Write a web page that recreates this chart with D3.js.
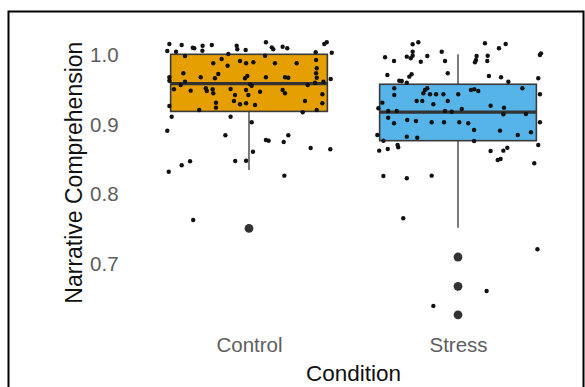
<!DOCTYPE html>
<html><head><meta charset="utf-8">
<script src="https://cdn.jsdelivr.net/npm/d3@7"></script>
<style>body{margin:0;background:#fff;} svg{display:block;font-family:"Liberation Sans",Arial,sans-serif;}</style>
</head><body><svg id="c" width="585" height="387"></svg>
<script>
const categories = ["Control", "Stress"];
const colors = ["#E69F00", "#56B4E9"];
const yTicks = [0.7, 0.8, 0.9, 1.0];
// box stats: [lowerWhisker, Q1, median, Q3, upperWhisker]
const controlBox = [0.835, 0.919, 0.959, 1.001, 1.001];
const stressBox = [0.752, 0.877, 0.918, 0.958, 1.001];
const controlOutliers = [0.751];
const stressOutliers = [0.710, 0.668, 0.627];
// jittered points: [horizontal jitter (category units), value]
const controlPoints = [[-0.381,1.0158],[-0.322,1.0144],[-0.269,1.0105],[-0.262,1.0096],[-0.222,1.0133],[-0.223,1.0062],[-0.178,1.0144],[-0.059,1.0133],[-0.056,1.0082],[-0.016,1.0072],[0.081,1.0182],[0.109,1.0110],[0.116,1.0082],[0.161,1.0119],[0.183,1.0096],[0.360,1.0158],[0.372,1.0182],[0.396,1.0033],[0.319,1.0039],[-0.349,1.0047],[-0.391,1.0057],[-0.306,0.9986],[-0.131,0.9943],[-0.099,1.0014],[0.077,0.9990],[0.321,0.9928],[-0.171,0.9881],[-0.102,0.9846],[-0.043,0.9914],[-0.014,0.9881],[0.021,0.9895],[0.124,0.9881],[0.228,0.9881],[0.324,0.9809],[-0.314,0.9737],[-0.147,0.9727],[-0.163,0.9666],[-0.231,0.9680],[-0.019,0.9666],[-0.008,0.9699],[0.081,0.9680],[0.172,0.9680],[0.188,0.9674],[0.321,0.9737],[0.324,0.9674],[0.391,0.9656],[-0.381,0.9680],[-0.381,0.9631],[-0.306,0.9617],[-0.327,0.9569],[0.005,0.9579],[0.013,0.9559],[0.281,0.9569],[0.316,0.9602],[0.356,0.9617],[-0.359,0.9508],[-0.279,0.9488],[-0.207,0.9522],[-0.202,0.9483],[-0.174,0.9508],[-0.171,0.9450],[-0.088,0.9512],[-0.014,0.9498],[0.053,0.9473],[0.161,0.9498],[0.172,0.9450],[0.351,0.9436],[-0.067,0.9426],[-0.003,0.9426],[-0.072,0.9340],[-0.043,0.9292],[-0.014,0.9307],[0.029,0.9282],[-0.158,0.9315],[-0.158,0.9244],[0.268,0.9340],[0.351,0.9307],[-0.381,0.9268],[-0.238,0.9211],[0.324,0.9211],[-0.370,0.9114],[-0.088,0.9114],[0.257,0.9178],[0.013,0.9034],[-0.391,0.8913],[-0.113,0.8848],[0.081,0.8780],[0.094,0.8770],[0.188,0.8848],[0.166,0.8751],[0.295,0.8665],[0.389,0.8647],[0.019,0.8612],[-0.282,0.8474],[-0.322,0.8417],[-0.384,0.8325],[-0.066,0.8479],[-0.014,0.8483],[0.169,0.8268],[-0.267,0.7632]];
const stressPoints = [[-0.217,1.0154],[-0.190,1.0182],[0.129,1.0168],[0.196,1.0096],[0.228,1.0158],[-0.217,1.0047],[-0.078,1.0047],[-0.349,0.9967],[-0.306,0.9914],[-0.245,0.9976],[-0.226,0.9953],[-0.217,0.9990],[-0.178,0.9904],[-0.147,0.9986],[-0.062,0.9914],[0.089,0.9986],[0.086,0.9928],[0.081,0.9895],[0.142,0.9990],[0.140,0.9914],[0.397,1.0024],[0.392,1.0000],[-0.222,0.9723],[-0.233,0.9689],[-0.338,0.9713],[-0.049,0.9737],[0.148,0.9699],[0.206,0.9680],[0.241,0.9617],[0.384,0.9666],[-0.281,0.9631],[-0.269,0.9627],[-0.245,0.9602],[-0.305,0.9522],[-0.305,0.9426],[-0.158,0.9498],[-0.147,0.9522],[-0.166,0.9450],[-0.134,0.9436],[-0.105,0.9436],[-0.070,0.9436],[0.001,0.9436],[0.062,0.9498],[0.078,0.9508],[0.097,0.9483],[0.308,0.9522],[0.392,0.9436],[-0.198,0.9340],[-0.171,0.9340],[-0.118,0.9293],[-0.049,0.9340],[0.156,0.9272],[-0.362,0.9316],[-0.381,0.9235],[0.220,0.9244],[-0.334,0.9196],[-0.293,0.9196],[-0.062,0.9196],[-0.030,0.9186],[0.018,0.9225],[0.217,0.9149],[0.325,0.9153],[-0.334,0.9100],[-0.306,0.9020],[-0.243,0.9067],[-0.201,0.9053],[-0.126,0.9034],[-0.067,0.9034],[0.006,0.9034],[0.049,0.9020],[0.392,0.9034],[0.077,0.8924],[0.201,0.8914],[0.286,0.8852],[0.349,0.8891],[-0.245,0.8828],[-0.195,0.8813],[-0.386,0.8852],[-0.357,0.8770],[0.077,0.8766],[-0.377,0.8627],[-0.336,0.8651],[-0.289,0.8708],[-0.286,0.8675],[0.156,0.8622],[0.217,0.8627],[0.236,0.8669],[0.190,0.8493],[0.204,0.8507],[0.384,0.8708],[0.365,0.8446],[-0.357,0.8263],[-0.245,0.8231],[-0.126,0.8268],[-0.262,0.7656],[0.380,0.7212],[0.137,0.6613],[-0.118,0.6398]];

const groups = [
  {name: categories[0], box: controlBox, out: controlOutliers, pts: controlPoints, color: colors[0]},
  {name: categories[1], box: stressBox, out: stressOutliers, pts: stressPoints, color: colors[1]}
];

const svg = d3.select("#c");
svg.append("rect").attr("x",0).attr("y",0).attr("width",585).attr("height",387).attr("fill","#fff");
svg.append("rect").attr("x",8.5).attr("y",11.5).attr("width",575).attr("height",390)
  .attr("fill","none").attr("stroke","#000").attr("stroke-width",2);

const x = d3.scalePoint().domain(categories).range([123.6, 583.4]).padding(0.6);
const y = d3.scaleLinear().domain([0.615, 1.03]).range([323.2, 34.1]);
const step = x.step();
const bw = step * 0.75;

// y axis
const ya = svg.append("g").attr("transform", `translate(${x.range()[0]},0)`)
  .call(d3.axisLeft(y).tickValues(yTicks).tickFormat(d3.format(".1f")).tickSize(0).tickPadding(5));
ya.select(".domain").remove();
ya.selectAll("text").attr("fill","#5e5e5e").style("font-size","20.5px").style("font-family","Liberation Sans, Arial, sans-serif");

// x axis
const xa = svg.append("g").attr("transform", `translate(0,${y.range()[0]})`)
  .call(d3.axisBottom(x).tickSize(0).tickPadding(14));
xa.select(".domain").remove();
xa.selectAll("text").attr("fill","#5e5e5e").style("font-size","20.5px").style("font-family","Liberation Sans, Arial, sans-serif");

// boxes
groups.forEach(g => {
  const cx = x(g.name);
  const [lw, q1, med, q3, uw] = g.box;
  const gg = svg.append("g");
  gg.append("line").attr("x1",cx).attr("x2",cx).attr("y1",y(q3)).attr("y2",y(uw)).attr("stroke","#5a5a5a").attr("stroke-width",1.6);
  gg.append("line").attr("x1",cx).attr("x2",cx).attr("y1",y(q1)).attr("y2",y(lw)).attr("stroke","#5a5a5a").attr("stroke-width",1.6);
  gg.append("rect").attr("x",cx-bw/2).attr("width",bw).attr("y",y(q3)).attr("height",y(q1)-y(q3))
    .attr("fill",g.color).attr("stroke","#3a3a3a").attr("stroke-width",1.6);
  gg.append("line").attr("x1",cx-bw/2).attr("x2",cx+bw/2).attr("y1",y(med)).attr("y2",y(med)).attr("stroke","#333").attr("stroke-width",3.2);
  gg.selectAll("circle.o").data(g.out).join("circle").attr("class","o")
    .attr("cx",cx).attr("cy",d=>y(d)).attr("r",4.4).attr("fill","#333");
});
// jitter points
groups.forEach(g => {
  const cx = x(g.name);
  svg.append("g").selectAll("circle").data(g.pts).join("circle")
    .attr("cx",d=>cx + d[0]*step).attr("cy",d=>y(d[1])).attr("r",2.2).attr("fill","#111");
});

// titles
svg.append("text").attr("x",(x(categories[0])+x(categories[1]))/2).attr("y",381)
  .attr("text-anchor","middle").attr("fill","#111").style("font-size","22.5px").text("Condition");
svg.append("text").attr("transform",`translate(82,${(y.range()[0]+y.range()[1])/2 - 6}) rotate(-90)`)
  .attr("text-anchor","middle").attr("fill","#111").style("font-size","23px").text("Narrative Comprehension");
</script></body></html>
